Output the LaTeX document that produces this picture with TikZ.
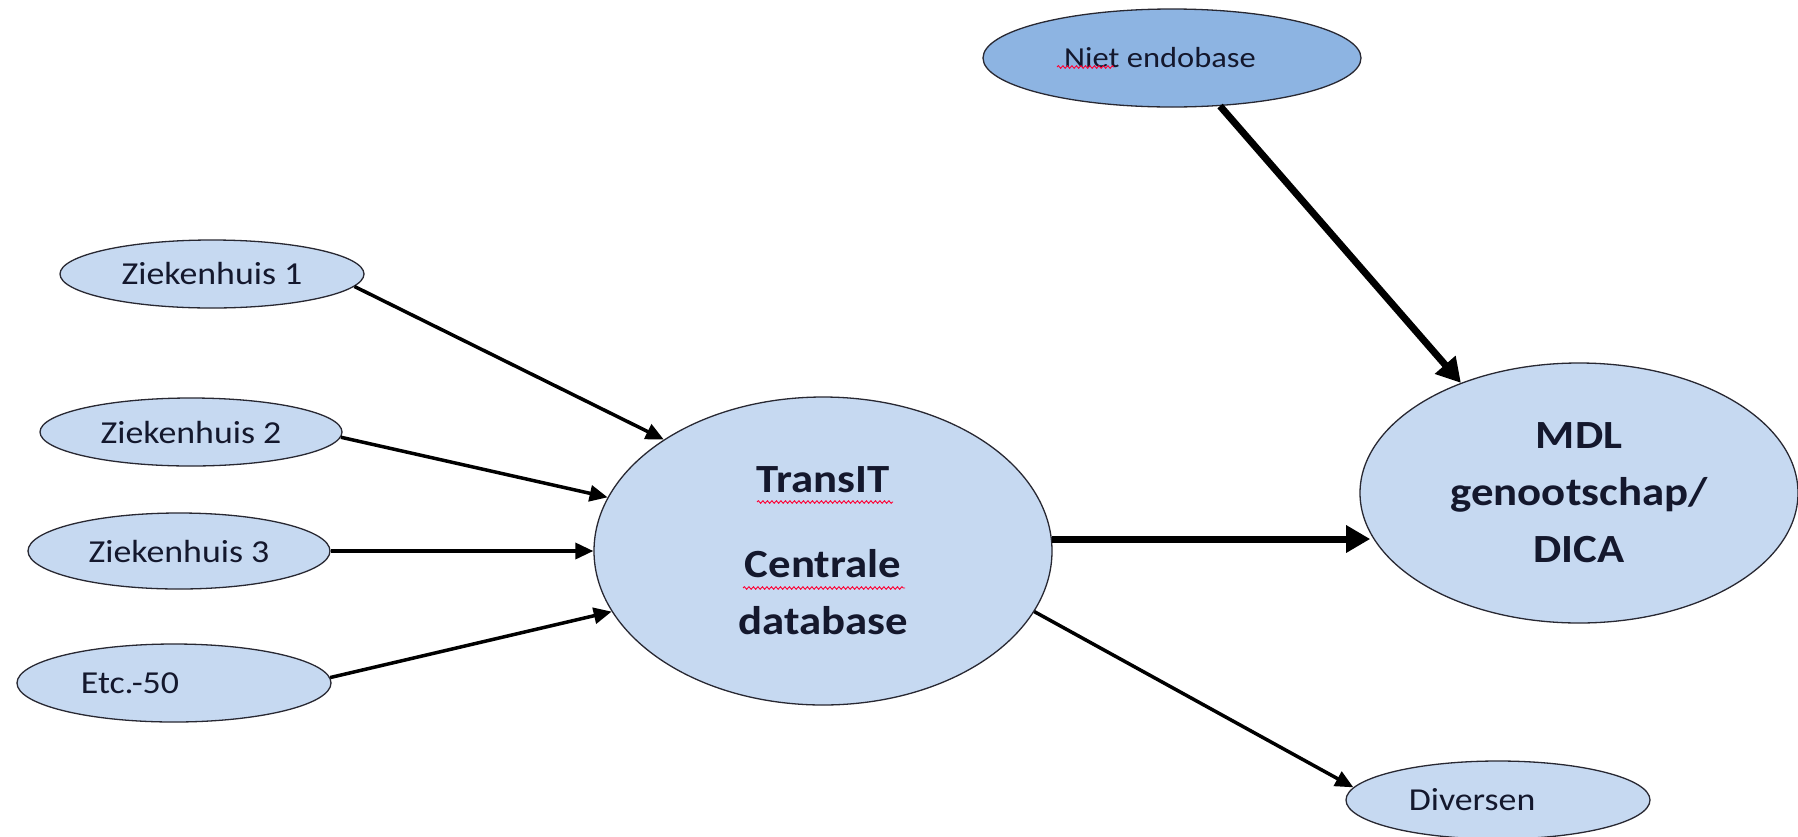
\documentclass[tikz,border=0pt]{standalone}
\usepackage{fontspec}
\setmainfont[FakeStretch=1.12]{Carlito}
\usetikzlibrary{shapes.geometric,arrows.meta,decorations.pathmorphing}
\definecolor{fillA}{RGB}{198,217,241}
\definecolor{fillB}{RGB}{141,180,226}
\definecolor{edgeC}{RGB}{40,40,50}
\definecolor{txtC}{RGB}{20,24,45}
\begin{document}
\begin{tikzpicture}[x=1pt,y=-1pt,
  oval/.style={ellipse,draw=edgeC,line width=1.3pt,fill=fillA,inner sep=0pt,text=txtC},
  smalltext/.style={font=\fontsize{32}{38}\selectfont},
  bigtext/.style={font=\fontsize{40}{57}\selectfont\bfseries,align=center},
  thinarrow/.style={-{Triangle[length=18pt,width=16pt]},line width=3.5pt,black},
  thickarrow/.style={-{Triangle[length=24pt,width=26pt]},line width=7pt,black},
  squig/.style={red!80!magenta,line width=0.9pt,decorate,decoration={snake,amplitude=1.3pt,segment length=4.5pt}}
]
\fill[white] (0,0) rectangle (1798,836);
\useasboundingbox (0,0) rectangle (1798,836);

\node[oval,fill=fillB,minimum width=378pt,minimum height=98pt,font=\fontsize{29}{35}\selectfont] (niet) at (1172,58) {Niet endobase\hspace*{24pt}};
\node[oval,minimum width=304pt,minimum height=68pt,smalltext] (z1) at (212,274) {Ziekenhuis 1};
\node[oval,minimum width=302pt,minimum height=68pt,smalltext] (z2) at (191,432) {Ziekenhuis 2};
\node[oval,minimum width=302pt,minimum height=76pt,smalltext] (z3) at (179,551) {Ziekenhuis 3};
\node[oval,minimum width=314pt,minimum height=78pt,smalltext] (etc) at (174,683) {Etc.-50\hspace*{88pt}};
\node[oval,minimum width=458pt,minimum height=308pt,bigtext] (t) at (823,551) {TransIT\\[28pt]Centrale\\database};
\node[oval,minimum width=438pt,minimum height=260pt,bigtext] (m) at (1579,493) {MDL\\genootschap/\\DICA};
\node[oval,minimum width=304pt,minimum height=78pt,smalltext] (div) at (1498,800) {Diversen\hspace*{52pt}};

\draw[thinarrow] (z1.-5.6) -- (t.145);
\draw[thinarrow] (z2.-2.3) -- (t.166.7);
\draw[thinarrow] (z3) -- (t);
\draw[thinarrow] (etc.2.9) -- (t.196.6);
\draw[thickarrow] (t.3.7) -- (t.3.7 -| m.191.8);
\draw[thickarrow] (niet.-45.6) -- (m.137.5);
\draw[thinarrow] (t.-16.1) -- (div.175.5);

\draw[squig] (1057,67) -- (1114,67);
\draw[squig] (757,502) -- (893,502);
\draw[squig] (743,588) -- (905,588);
\end{tikzpicture}
\end{document}
